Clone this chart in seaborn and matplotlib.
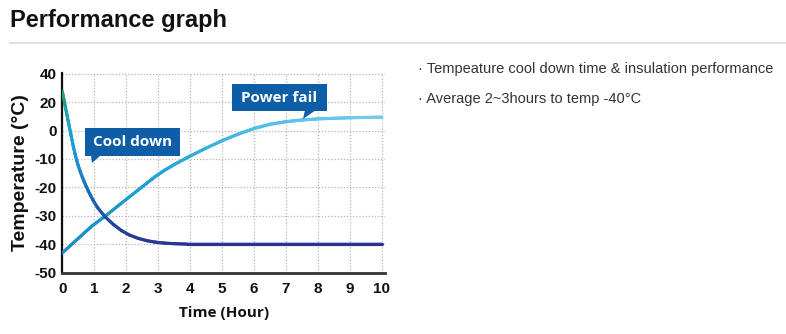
import numpy as np
import pandas as pd
import seaborn as sns
import matplotlib.pyplot as plt
from matplotlib.collections import LineCollection
from matplotlib.colors import LinearSegmentedColormap, Normalize
from matplotlib.patches import Rectangle, Polygon

# ---- data -------------------------------------------------------------
hours = list(range(0, 11))
temp_ticks = [-50, -40, -30, -20, -10, 0, 20, 40]

cool_time = [0, 0.1, 0.19, 0.27, 0.345, 0.4, 0.45, 0.5, 0.555, 0.62, 0.68, 0.75,
             0.815, 0.95, 1.1, 1.34, 1.6, 1.86, 2.1, 2.38, 2.65, 2.9, 3.2, 3.5,
             3.9, 5, 6, 7, 8, 9, 10]
cool_temp = [27.6, 16.2, 6.0, -1.5, -5.6, -8.3, -10.5, -12.4, -14.2, -16.2, -17.9,
             -19.7, -21.3, -24.3, -27.1, -30.4, -33.1, -35.3, -36.8, -38.0, -38.8,
             -39.3, -39.65, -39.85, -40, -40, -40, -40, -40, -40, -40]

fail_time = [0, 0.92, 1.34, 1.86, 2.38, 2.65, 2.9, 3.2, 3.5, 4, 4.5, 5, 5.5, 6,
             6.5, 7, 7.5, 8, 9, 10]
fail_temp = [-43.1, -33.7, -30.2, -25.5, -20.9, -18.5, -16.3, -14.0, -12.0, -9.0,
             -6.2, -3.6, -1.3, 1.4, 4.4, 6.2, 7.4, 8.2, 9.0, 9.4]

cool_label = "Cool down"
fail_label = "Power fail"
title = "Performance graph"
notes = ["· Tempeature cool down time & insulation performance",
         "· Average 2~3hours to temp -40°C"]

# ---- style ------------------------------------------------------------
sns.set_theme(style="white")
plt.rcParams["font.family"] = ["Liberation Sans", "DejaVu Sans"]

W, H = 786, 334
fig = plt.figure(figsize=(W / 100, H / 100), dpi=100)
fig.patch.set_facecolor("white")


def fx(px):
    return px / W


def fy(py):
    return 1 - py / H


ax_l, ax_r, ax_t, ax_b = 62.3, 385, 73, 272.5
ax = fig.add_axes([fx(ax_l), fy(ax_b), fx(ax_r) - fx(ax_l), fy(ax_t) - fy(ax_b)])


# temperatures above zero are drawn at half spacing
def fwd(v):
    v = np.asarray(v, dtype=float)
    return np.where(v < 0, v, v / 2)


def inv(v):
    v = np.asarray(v, dtype=float)
    return np.where(v < 0, v, v * 2)


ax.set_yscale("function", functions=(fwd, inv))

df_cool = pd.DataFrame({"time": cool_time, "temp": cool_temp})
df_fail = pd.DataFrame({"time": fail_time, "temp": fail_temp})

sns.lineplot(data=df_fail, x="time", y="temp", ax=ax, color="#2aa3d6", lw=2.0)
sns.lineplot(data=df_cool, x="time", y="temp", ax=ax, color="#1f5db0", lw=2.0)


def gradient_line(x, y, cmap, values, norm, z):
    pts = np.column_stack([x, y]).reshape(-1, 1, 2)
    segs = np.concatenate([pts[:-1], pts[1:]], axis=1)
    lc = LineCollection(segs, cmap=cmap, norm=norm, linewidths=2.3,
                        capstyle="round", joinstyle="round", zorder=z)
    v = np.asarray(values, dtype=float)
    lc.set_array((v[:-1] + v[1:]) / 2)
    ax.add_collection(lc)


fail_cmap = LinearSegmentedColormap.from_list(
    "fail", [(0, "#1a8cc0"), (0.3, "#22a2d4"), (0.6, "#4fbde8"), (1, "#74cdf0")])
gradient_line(fail_time, fail_temp, fail_cmap, fail_time, Normalize(0, 10), 3)

cool_cmap = LinearSegmentedColormap.from_list(
    "cool", [(0, "#2b3591"), (0.11, "#22479f"), (0.23, "#1b64b5"),
             (0.38, "#1787c9"), (0.53, "#19a2d9"), (0.73, "#17a6c0"), (1, "#24a06a")])
gradient_line(cool_time, cool_temp, cool_cmap, cool_temp, Normalize(-40, 26), 4)

ax.set_xlim(0, 10.1)
ax.set_ylim(-50, 40.5)
ax.set_xticks(hours)
ax.set_xticklabels([str(h) for h in hours])
ax.set_yticks(temp_ticks)
ax.set_yticklabels([str(t) for t in temp_ticks])
ax.minorticks_off()

ax.grid(True, color="#b5b5b5", linestyle=(0, (1, 1.5)), linewidth=0.9)
ax.set_axisbelow(True)
sns.despine(ax=ax)
ax.spines["left"].set_color("#111111")
ax.spines["left"].set_linewidth(1.6)
ax.spines["bottom"].set_color("#333333")
ax.spines["bottom"].set_linewidth(2.0)

ax.tick_params(axis="both", length=0, labelsize=11, labelcolor="#111111")
ax.tick_params(axis="x", pad=7)
ax.tick_params(axis="y", pad=4)
for lab in ax.get_xticklabels() + ax.get_yticklabels():
    lab.set_fontweight("bold")

ax.set_xlabel("Time (Hour)", fontsize=11, fontweight="bold", color="#111111",
              family=["Open Sans", "DejaVu Sans"], labelpad=7)
ax.set_ylabel("Temperature (°C)", fontsize=14, fontweight="bold", color="#111111",
              labelpad=4)


# ---- callout boxes ----------------------------------------------------
def callout(x0, y0, x1, y1, tail, text):
    fig.add_artist(Rectangle((fx(x0), fy(y1)), fx(x1) - fx(x0), fy(y0) - fy(y1),
                             transform=fig.transFigure, facecolor="#0d5ea6",
                             edgecolor="none", zorder=10))
    fig.add_artist(Polygon([(fx(px), fy(py)) for px, py in tail], closed=True,
                           transform=fig.transFigure, facecolor="#0d5ea6",
                           edgecolor="none", zorder=10))
    fig.text(fx((x0 + x1) / 2), fy((y0 + y1) / 2), text, color="white",
             fontsize=11, fontweight="bold", family=["Open Sans", "DejaVu Sans"],
             ha="center", va="center", zorder=11)


callout(85, 128, 180, 156, [(91, 155), (101, 155), (92, 163)], cool_label)
callout(232, 84, 327, 111, [(305, 110), (316, 110), (303, 119)], fail_label)

# ---- header and notes -------------------------------------------------
fig.text(fx(10), fy(20), title, fontsize=17, fontweight="bold",
         color="#111111", ha="left", va="center")
fig.add_artist(plt.Line2D([fx(10), fx(786)], [fy(43), fy(43)],
                          transform=fig.transFigure, color="#e2e2e2", lw=1.5))
for i, note in enumerate(notes):
    fig.text(fx(418), fy(69 + 30 * i), note, fontsize=10.5, color="#333333",
             ha="left", va="center")

fig.savefig("out.png", dpi=100, facecolor="white")
